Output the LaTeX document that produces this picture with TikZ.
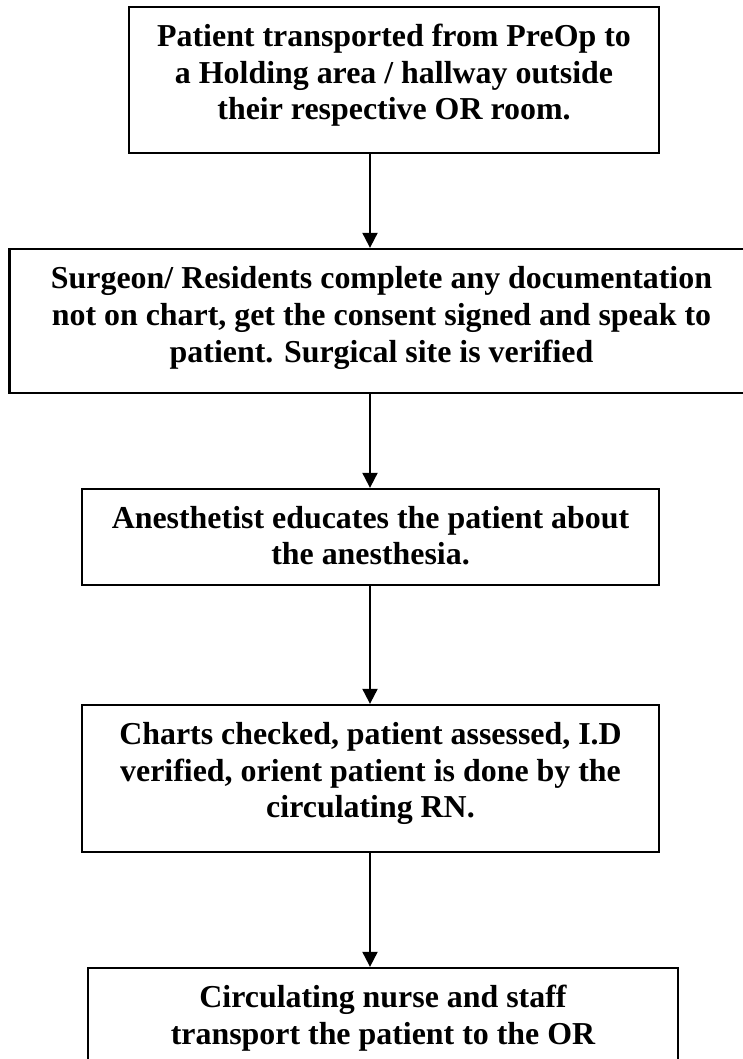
\documentclass[tikz,border=0pt]{standalone}
\usepackage{fontspec}
\setmainfont{Liberation Serif}
\usetikzlibrary{arrows.meta}
\newcommand{\mystrut}{\rule[-7pt]{0pt}{30pt}}
\begin{document}
\begin{tikzpicture}[x=1pt,y=-1pt,
  box/.style={draw=black, line width=2.3pt, rectangle, inner sep=0pt},
  txt/.style={align=center, inner sep=0pt, font=\fontsize{31.9}{36.6}\selectfont\bfseries},
  arr/.style={draw=black, line width=2pt, -{Triangle[width=15pt,length=15pt]}}]
\useasboundingbox (0,0) rectangle (743,1059);
\coordinate (ax) at (370,0);
% boxes
\node[box, minimum width=530pt, minimum height=146pt] (b1) at (394,80) {};
\node[box, minimum width=744pt, minimum height=144pt] (b2) at (381.5,321) {};
\node[box, minimum width=577pt, minimum height=96pt] (b3) at (370.5,537) {};
\node[box, minimum width=577pt, minimum height=147pt] (b4) at (370.5,778.5) {};
\node[box, minimum width=590pt, minimum height=146pt] (b5) at (383,1041) {};
% texts
\node[txt] (t1) at (394,75.3) {\mystrut Patient transported from PreOp to\\\mystrut a Holding area / hallway outside\\\mystrut their respective OR room.};
\node[txt] (t2) at (381.5,317.6) {\mystrut Surgeon/ Residents complete any documentation\\\mystrut not on chart, get the consent signed and speak to\\\mystrut patient. Surgical site is verified};
\node[txt] (t3) at (370.5,538.3) {\mystrut Anesthetist educates the patient about\\\mystrut the anesthesia.};
\node[txt] (t4) at (370.5,773.3) {\mystrut Charts checked, patient assessed, I.D\\\mystrut verified, orient patient is done by the\\\mystrut circulating RN.};
\node[txt] (t5) at (383,1018) {\mystrut Circulating nurse and staff\\\mystrut transport the patient to the OR};
% connectors
\draw[arr] (b1.south -| ax) -- (b2.north -| ax);
\draw[arr] (b2.south -| ax) -- (b3.north -| ax);
\draw[arr] (b3.south -| ax) -- (b4.north -| ax);
\draw[arr] (b4.south -| ax) -- (b5.north -| ax);
\end{tikzpicture}
\end{document}
